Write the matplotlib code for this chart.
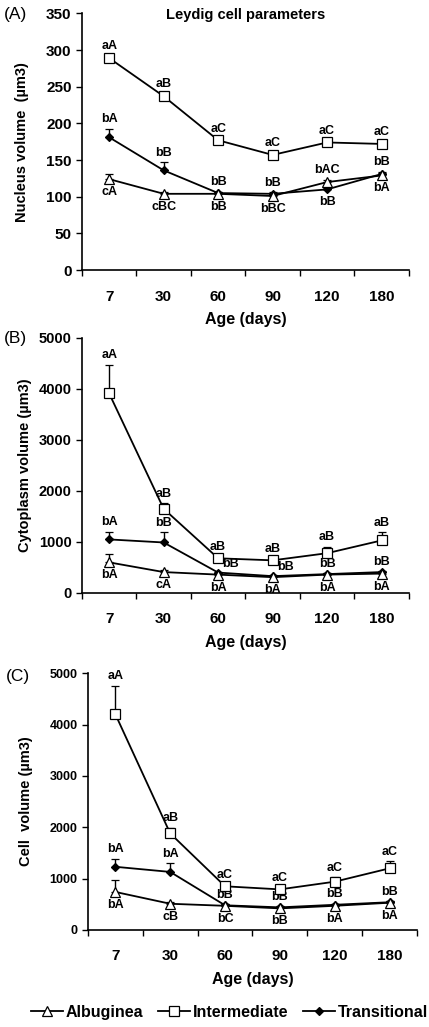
import matplotlib
matplotlib.use("Agg")
import matplotlib.pyplot as plt
import numpy as np
from matplotlib.lines import Line2D

plt.rcParams['font.family'] = ['Liberation Sans', 'DejaVu Sans']

ages = ["7", "30", "60", "90", "120", "180"]

# Panel A: nucleus volume (µm3)
a_alb = [124, 104, 104, 101, 120, 129]
a_alb_err = [7, 2, 2, 2, 3, 3]
a_int = [289, 237, 177, 157, 174, 172]
a_int_err = [4, 4, 3, 3, 3, 3]
a_tra = [181, 136, 105, 104, 110, 131]
a_tra_err = [12, 11, 2, 2, 2, 3]

# Panel B: cytoplasm volume (µm3)
b_alb = [600, 410, 360, 310, 360, 380]
b_alb_err = [170, 50, 30, 30, 30, 30]
b_int = [3910, 1650, 680, 640, 780, 1030]
b_int_err = [560, 110, 40, 40, 130, 160]
b_tra = [1050, 990, 400, 330, 370, 410]
b_tra_err = [150, 200, 20, 20, 20, 20]

# Panel C: cell volume (µm3)
c_alb = [740, 510, 470, 420, 470, 530]
c_alb_err = [240, 40, 30, 30, 30, 30]
c_int = [4200, 1880, 850, 790, 940, 1200]
c_int_err = [560, 110, 40, 40, 90, 140]
c_tra = [1230, 1130, 480, 440, 490, 540]
c_tra_err = [160, 170, 20, 20, 20, 20]

# Letter annotations
a_alb_lab = ["cA", "cBC", "bB", "bBC", "bAC", "bA"]
a_int_lab = ["aA", "aB", "aC", "aC", "aC", "aC"]
a_tra_lab = ["bA", "bB", "bB", "bB", "bB", "bB"]
b_alb_lab = ["bA", "cA", "bA", "bA", "bA", "bA"]
b_int_lab = ["aA", "aB", "aB", "aB", "aB", "aB"]
b_tra_lab = ["bA", "bB", "bB", "bB", "bB", "bB"]
c_alb_lab = ["bA", "cB", "bC", "bB", "bA", "bA"]
c_int_lab = ["aA", "aB", "aC", "aC", "aC", "aC"]
c_tra_lab = ["bA", "bA", "bB", "bB", "bB", "bB"]

# placement codes: 'u' above, 'd' below, 'r' upper right
a_alb_pos = ['d', 'd', 'd', 'd', 'u', 'd']
a_int_pos = ['u'] * 6
a_tra_pos = ['u', 'u', 'u', 'u', 'd', 'u']
b_alb_pos = ['d'] * 6
b_int_pos = ['u'] * 6
b_tra_pos = ['u', 'u', 'r', 'r', 'u', 'u']
c_alb_pos = ['d'] * 6
c_int_pos = ['u'] * 6
c_tra_pos = ['u'] * 6

fig = plt.figure(figsize=(4.29, 10.27), dpi=100)
W, H = 429.0, 1027.0

axA = fig.add_axes([0.191, 0.737, 0.762, 0.250])
axB = fig.add_axes([0.191, 0.4226, 0.762, 0.2484])
axC = fig.add_axes([0.205, 0.0945, 0.767, 0.250])

x = np.arange(len(ages))

styles = {
    'alb': dict(marker='^', mfc='white', mec='black', ms=7.5, mew=0.9),
    'int': dict(marker='s', mfc='white', mec='black', ms=7.5, mew=0.9),
    'tra': dict(marker='D', mfc='black', mec='black', ms=4.5, mew=0.9),
}

ANN = 9


def draw(ax, series, ylim, yticks, ylabel, ytick_size, ylabelpad):
    for key, vals, errs, labs, poss in series:
        vals = np.array(vals, float)
        errs = np.array(errs, float)
        ax.errorbar(x, vals, yerr=[np.zeros_like(errs), errs], color='black',
                    lw=1.3, elinewidth=1.0, capsize=3, capthick=1.0,
                    zorder=3, **styles[key])
        for xi, v, e, lab, p in zip(x, vals, errs, labs, poss):
            if p == 'u':
                ax.annotate(lab, (xi, v + e), xytext=(0, 2.5), textcoords='offset points',
                            ha='center', va='bottom', fontsize=ANN, fontweight='bold')
            elif p == 'd':
                ax.annotate(lab, (xi, v), xytext=(0, -5), textcoords='offset points',
                            ha='center', va='top', fontsize=ANN, fontweight='bold')
            else:
                ax.annotate(lab, (xi, v), xytext=(3, 2), textcoords='offset points',
                            ha='left', va='bottom', fontsize=ANN, fontweight='bold')
    ax.set_xlim(-0.5, len(ages) - 0.5)
    ax.set_ylim(*ylim)
    ax.set_yticks(yticks)
    ax.set_xticks(x)
    ax.set_xticklabels(ages)
    ax.set_xticks(np.arange(-0.5, len(ages)), minor=True)
    ax.tick_params(axis='x', which='major', length=0, pad=14, labelsize=11)
    ax.tick_params(axis='x', which='minor', length=4, width=1.0, direction='out')
    ax.tick_params(axis='y', length=4, width=1.0, direction='out', labelsize=ytick_size)
    for t in ax.get_xticklabels() + ax.get_yticklabels():
        t.set_fontweight('bold')
    for s in ['top', 'right']:
        ax.spines[s].set_visible(False)
    for s in ['left', 'bottom']:
        ax.spines[s].set_linewidth(1.2)
    ax.set_xlabel("Age (days)", fontsize=11.5, fontweight='bold', labelpad=6)
    ax.set_ylabel(ylabel, fontsize=10.5, fontweight='bold', labelpad=ylabelpad)


draw(axA, [('int', a_int, a_int_err, a_int_lab, a_int_pos),
           ('tra', a_tra, a_tra_err, a_tra_lab, a_tra_pos),
           ('alb', a_alb, a_alb_err, a_alb_lab, a_alb_pos)],
     (0, 350), np.arange(0, 351, 50), "Nucleus volume  (µm3)", 11, 12)
axA.set_title("Leydig cell parameters", fontsize=10.5, fontweight='bold', y=0.945)

draw(axB, [('int', b_int, b_int_err, b_int_lab, b_int_pos),
           ('tra', b_tra, b_tra_err, b_tra_lab, b_tra_pos),
           ('alb', b_alb, b_alb_err, b_alb_lab, b_alb_pos)],
     (0, 5000), np.arange(0, 5001, 1000), "Cytoplasm volume (µm3)", 10.5, 5)

draw(axC, [('int', c_int, c_int_err, c_int_lab, c_int_pos),
           ('tra', c_tra, c_tra_err, c_tra_lab, c_tra_pos),
           ('alb', c_alb, c_alb_err, c_alb_lab, c_alb_pos)],
     (0, 5000), np.arange(0, 5001, 1000), "Cell  volume (µm3)", 9, 12)

for lab, px, py in [("(A)", 4, 15), ("(B)", 4, 338), ("(C)", 6, 676)]:
    fig.text(px / W, 1 - py / H, lab, fontsize=12.5, ha='left', va='center')

handles = [Line2D([], [], color='black', lw=1.3, **styles['alb']),
           Line2D([], [], color='black', lw=1.3, **styles['int']),
           Line2D([], [], color='black', lw=1.3, **styles['tra'])]
fig.legend(handles, ["Albuginea", "Intermediate", "Transitional"],
           loc='center', bbox_to_anchor=(0.535, 0.0145), ncol=3, frameon=False,
           prop={'weight': 'bold', 'size': 11.5}, handlelength=2.0,
           handletextpad=0.2, columnspacing=0.9, borderaxespad=0)

fig.savefig("out.png", dpi=100)
